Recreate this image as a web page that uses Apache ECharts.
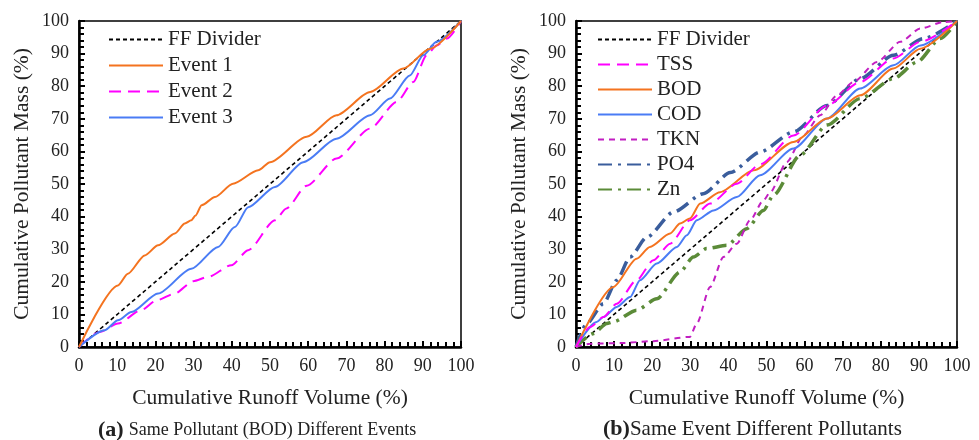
<!DOCTYPE html>
<html><head><meta charset="utf-8">
<script src="https://cdn.jsdelivr.net/npm/echarts@6/dist/echarts.min.js"></script>
<style>html,body{margin:0;padding:0;background:#fff}#c{width:979px;height:440px}</style>
</head><body><div id="c"></div>
<script>
// ---------- data (x = cumulative runoff volume %, y = cumulative pollutant mass %) ----------
var ffDivider = [[0,0],[100,100]];
// (a) BOD, different events
var event1 = [[0,0],[10.2,18.9],[12.8,22.5],[17.2,28.1],[20.7,31.2],[25.1,34.8],[27.7,37.9],[29.4,38.9],[30.5,40.3],[32.1,43.5],[35.6,46],[40.3,50.1],[46.9,54.2],[50,56.7],[59.6,64.5],[67.4,71.1],[76.2,78.2],[84.9,85.4],[91.9,91.5],[100,100]];
var event2 = [[0,0],[5.4,4.6],[10.2,7.2],[16.3,11.3],[20.3,14.3],[25.1,16.4],[29.9,20.2],[33.8,21.5],[39.9,25.1],[44.3,29.7],[51.3,38.9],[54.3,42.5],[59.6,49.5],[67.4,57.8],[76.2,67],[83.2,75.2],[87.5,81.3],[91,89.5],[93.6,92.5],[96.3,94.6],[100,100]];
var event3 = [[0,0],[6.7,5.1],[10.2,8.2],[13.7,10.7],[20.7,16.4],[29.4,24],[36.4,30.7],[40.8,36.8],[44.3,42.9],[51.3,49.1],[58.7,56.7],[67.4,63.9],[76.2,71.1],[81.4,76.2],[86.6,83.3],[90.1,89.5],[93.6,93.6],[100,100]];
// (b) same event, different pollutants
var tss = [[0,0],[3.7,6.1],[7.2,9.2],[10.7,13.3],[15.9,20.5],[20.3,26.6],[24.7,31.7],[29.9,38.9],[35.2,44],[42.2,50.1],[48.3,56],[57.1,64.9],[65.9,74.1],[74.6,81.3],[83.3,88.5],[90.4,93.6],[100,100]];
var bod = [[0,0],[9.8,18.4],[15.9,27.1],[19.4,30.7],[24.7,34.8],[27.3,37.9],[29.9,39.4],[32.6,44],[37.8,47.5],[46.6,54.2],[57.1,62.9],[65.9,70.1],[74.6,77.2],[83.3,85.4],[90.4,91.5],[100,100]];
var cod = [[0,0],[5.4,7.7],[7.2,9.2],[10.7,12.3],[14.2,15.3],[16.8,20.5],[21.2,25.6],[26.5,30.7],[29.1,34.3],[31.7,38.9],[36.1,41.9],[42.2,46],[48.3,52.7],[57.1,60.9],[65.9,70.1],[74.6,79.3],[83.3,86.4],[90.4,92.5],[100,100]];
var tkn = [[0,0],[3.7,1],[11.6,1.2],[20.3,1.8],[29.9,3.1],[31.7,7.2],[35.2,18.4],[38.7,27.6],[42.2,31.7],[45.7,38.9],[49.2,45],[51,47.5],[55.3,56.7],[59.7,64.9],[64.1,71.1],[68.5,77.2],[72.8,81.3],[79,87.4],[85.1,93.6],[90.4,97.7],[96.5,99.7],[100,100]];
var po4 = [[0,0],[2.8,7.2],[7.2,13.3],[10.7,20.5],[14.2,27.6],[18.6,33.7],[25.6,41.4],[33.4,47],[40.5,53.5],[48.3,59.8],[57.1,66],[65.9,74.1],[74.6,82.3],[83.3,89.5],[91.2,94.6],[100,100]];
var zn = [[0,0],[4.5,4.1],[8.1,7.2],[9.8,7.7],[15.9,11.3],[21.2,14.8],[27.3,23],[30.8,27.6],[34.3,30.2],[39.6,31.2],[44.8,36.3],[49.2,41.9],[51.8,46.5],[58.8,58.8],[65.9,68.1],[74.6,76.2],[83.3,82.3],[89.5,87.4],[95.6,94.6],[100,100]];
var xTicks = [0,10,20,30,40,50,60,70,80,90,100];
var legendA = ['FF Divider','Event 1','Event 2','Event 3'];
var legendB = ['FF Divider','TSS','BOD','COD','TKN','PO4','Zn'];

var FONT = 'Liberation Serif';
var TXT = '#222';

function xAx(g){return {type:'value',gridIndex:g,min:0,max:100,interval:10,
  axisLine:{show:true,onZero:false,lineStyle:{color:'#000',width:2.5}},
  axisTick:{show:true,inside:true,length:6,lineStyle:{color:'#000',width:2}},
  minorTick:{show:true,splitNumber:5,length:5,lineStyle:{color:'#000',width:2}},
  splitLine:{show:false},
  axisLabel:{margin:10,fontFamily:FONT,fontSize:18,color:TXT},
  name:'Cumulative Runoff Volume (%)',nameLocation:'middle',nameGap:40,
  nameTextStyle:{fontFamily:FONT,fontSize:21.5,color:TXT}};}
function yAx(g){return {type:'value',gridIndex:g,min:0,max:100,interval:10,
  axisLine:{show:true,onZero:false,lineStyle:{color:'#000',width:2.5}},
  axisTick:{show:true,inside:true,length:6,lineStyle:{color:'#000',width:2}},
  minorTick:{show:true,splitNumber:5,length:5,lineStyle:{color:'#000',width:2}},
  splitLine:{show:false},
  axisLabel:{margin:10,fontFamily:FONT,fontSize:18,color:TXT},
  name:'Cumulative Pollutant Mass (%)',nameLocation:'middle',nameGap:46,nameRotate:90,
  nameTextStyle:{fontFamily:FONT,fontSize:21.5,color:TXT}};}

function ser(name,data,g,color,width,type){
  return {type:'line',name:name,data:data,xAxisIndex:g,yAxisIndex:g,
    symbol:'none',smooth:0.25,smoothMonotone:'x',
    lineStyle:{color:color,width:width,type:type},itemStyle:{color:color}};
}
var C = {ff:'#000000',orange:'#f4731f',mag:'#ff00ff',blue:'#4a7cf5',tkn:'#c21ec2',po4:'#3a5d9c',zn:'#5b8b38'};
var DASH = {ff:[4,3],long:[12,7],short:[6,5],dd:[14,6,3,6]};

var series = [
  ser('FF Divider',ffDivider,0,C.ff,1.6,DASH.ff),
  ser('Event 2',event2,0,C.mag,2,DASH.long),
  ser('Event 3',event3,0,C.blue,2,'solid'),
  ser('Event 1',event1,0,C.orange,2,'solid'),
  ser('FF Divider',ffDivider,1,C.ff,1.6,DASH.ff),
  ser('Zn',zn,1,C.zn,3.5,DASH.dd),
  ser('PO4',po4,1,C.po4,3.5,DASH.dd),
  ser('TKN',tkn,1,C.tkn,2,DASH.short),
  ser('COD',cod,1,C.blue,2,'solid'),
  ser('BOD',bod,1,C.orange,2,'solid'),
  ser('TSS',tss,1,C.mag,2,DASH.long)
];

var legendBase = {orient:'vertical',itemWidth:54,itemHeight:14,
  itemStyle:{opacity:0},
  textStyle:{fontFamily:FONT,fontSize:21,color:TXT},selectedMode:false};

var option = {
  animation:false,
  backgroundColor:'#fff',
  grid:[
    {left:79,right:518,top:21,bottom:93,show:true,borderColor:'#000',borderWidth:1.5},
    {left:576,right:22,top:21,bottom:93,show:true,borderColor:'#000',borderWidth:1.5}
  ],
  xAxis:[xAx(0),xAx(1)],
  yAxis:[yAx(0),yAx(1)],
  legend:[
    Object.assign({},legendBase,{left:103,top:24,itemGap:5,data:legendA}),
    Object.assign({},legendBase,{left:592,top:24,itemGap:4,data:legendB})
  ],
  title:[
    {left:93,top:414,text:'{b|(a)} {n|Same Pollutant (BOD) Different Events}',
     textStyle:{rich:{b:{fontFamily:FONT,fontWeight:'bold',fontSize:22,color:TXT},n:{fontFamily:FONT,fontWeight:'normal',fontSize:18,color:TXT}}}},
    {left:598,top:413,text:'{b|(b)}{n|Same Event Different Pollutants}',
     textStyle:{rich:{b:{fontFamily:FONT,fontWeight:'bold',fontSize:22,color:TXT},n:{fontFamily:FONT,fontWeight:'normal',fontSize:21,color:TXT}}}}
  ],
  series:series
};
var chart = echarts.init(document.getElementById('c'),null,{renderer:'canvas'});
chart.setOption(option);
</script></body></html>
